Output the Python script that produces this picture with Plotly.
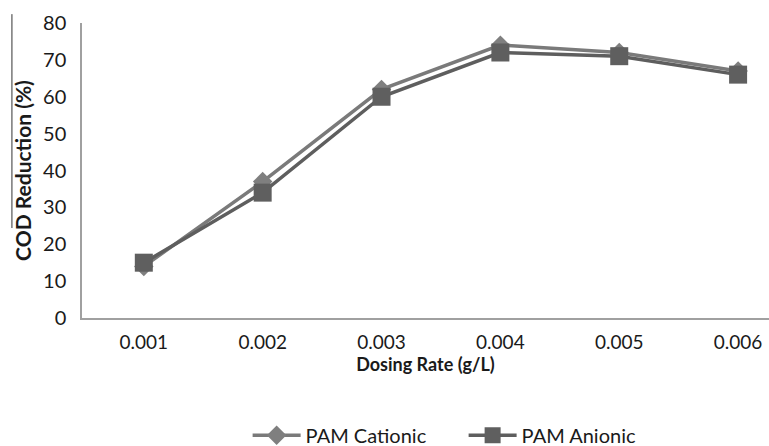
import plotly.graph_objects as go

# Dosing rates (g/L) and COD reduction (%) for the two polyacrylamide types
dosing_rates = ["0.001", "0.002", "0.003", "0.004", "0.005", "0.006"]
pam_cationic = [14, 37, 62, 74, 72, 67]
pam_anionic = [15, 34, 60, 72, 71, 66]
y_ticks = [0, 10, 20, 30, 40, 50, 60, 70, 80]

FONT = "Lato"

fig = go.Figure()
fig.add_trace(go.Scatter(
    x=dosing_rates, y=pam_cationic, name="PAM Cationic",
    mode="lines+markers",
    line=dict(color="#7a7a7a", width=3.5),
    marker=dict(symbol="diamond", size=15, color="#7f7f7f"),
))
fig.add_trace(go.Scatter(
    x=dosing_rates, y=pam_anionic, name="PAM Anionic",
    mode="lines+markers",
    line=dict(color="#5e5e5e", width=3.5),
    marker=dict(symbol="square", size=18, color="#5f5f5f"),
))

fig.update_layout(
    width=769, height=446,
    margin=dict(l=82, r=0, t=23, b=128, autoexpand=False),
    paper_bgcolor="white", plot_bgcolor="white",
    font=dict(family=FONT, size=19, color="#1a1a1a"),
    showlegend=True,
    legend=dict(
        orientation="h", xref="container", yref="container",
        x=0.322, y=0.024, xanchor="left", yanchor="middle",
        font=dict(family=FONT, size=20, color="#1a1a1a"),
        itemwidth=48, entrywidth=153, entrywidthmode="pixels",
        tracegroupgap=0,
    ),
)

fig.update_xaxes(
    type="category", range=[-0.52, 5.26], automargin=False,
    showline=True, linecolor="#a0a0a0", linewidth=1.5,
    showgrid=False, ticks="", zeroline=False,
    tickfont=dict(family=FONT, size=19),
    ticklabelstandoff=6,
    title=dict(text="<b>Dosing Rate (g/L)</b>", standoff=0,
               font=dict(family=FONT, size=18)),
)
fig.update_yaxes(
    range=[0, 80], tickvals=y_ticks, automargin=False,
    showline=True, linecolor="#a0a0a0", linewidth=1.5,
    showgrid=False, ticks="", zeroline=False,
    tickfont=dict(family=FONT, size=20),
    ticklabelstandoff=10,
    title=dict(text="<b>COD Reduction (%)</b>", standoff=6,
               font=dict(family=FONT, size=21)),
)

# thin rule at the left edge of the figure
fig.add_shape(type="line", xref="paper", yref="paper",
              x0=-0.102, x1=-0.102, y0=1.03, y1=0.305,
              line=dict(color="#333333", width=1))

fig.write_html("out.html")
